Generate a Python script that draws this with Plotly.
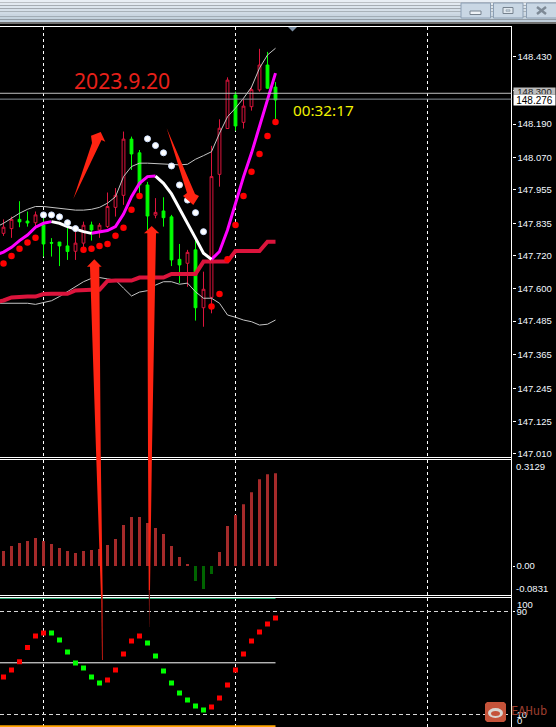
import plotly.graph_objects as go

# ---------- data ----------
bars = list(range(35))
opens = [147.799,147.816,147.849,147.843,147.837,147.829,147.766,147.768,147.754,147.735,147.764,147.829,147.811,147.823,147.892,147.935,
         148.136,148.087,147.972,147.864,147.879,147.858,147.706,147.692,147.740,147.533,147.570,148.010,148.174,148.294,148.196,148.252,148.312,148.401,148.322]
highs = [147.849,147.859,147.914,147.877,147.877,147.865,147.782,147.768,147.844,147.811,147.841,147.841,147.836,147.945,147.961,148.163,
         148.145,148.097,147.983,147.925,147.928,147.865,147.761,147.740,147.775,147.662,148.112,148.207,148.357,148.306,148.282,148.324,148.459,148.448,148.340]
lows = [147.790,147.783,147.821,147.823,147.823,147.716,147.716,147.682,147.704,147.704,147.740,147.773,147.783,147.818,147.859,147.901,
        148.026,147.933,147.811,147.853,147.823,147.682,147.621,147.608,147.487,147.465,147.513,147.966,148.174,148.166,148.174,148.238,148.306,148.316,148.205]
closes = [147.821,147.849,147.840,147.836,147.865,147.761,147.764,147.754,147.734,147.764,147.828,147.811,147.828,147.895,147.935,148.136,
          148.083,147.972,147.861,147.874,147.855,147.704,147.686,147.731,147.533,147.599,148.002,148.175,148.347,148.183,148.254,148.313,148.401,148.318,148.276]

line_x = [-1] + bars
hull_rising = [147.722,147.732,147.749,147.773,147.793,147.821,147.835,147.841,None,None,None,None,147.799,147.803,147.809,147.823,147.868,
               147.930,147.978,148.002,148.004,None,None,None,None,None,None,147.706,147.734,147.811,147.908,148.001,148.086,148.181,148.282,148.372]
hull_falling = [None,None,None,None,None,None,None,147.841,147.835,147.823,147.814,147.805,147.799,None,None,None,None,
                None,None,None,148.004,147.978,147.940,147.889,147.835,147.782,147.728,147.706,None,None,None,None,None,None,None,None]
band_upper = [147.820,147.835,147.853,147.871,147.885,147.895,147.895,147.892,147.887,147.885,147.882,147.882,147.885,147.892,147.907,147.930,148.002,
              148.038,148.050,148.050,148.048,148.046,148.044,148.044,148.046,148.064,148.077,148.091,148.157,148.216,148.247,148.282,148.322,148.390,148.437,148.461]
band_lower = [147.549,147.549,147.549,147.549,147.549,147.545,147.551,147.558,147.573,147.590,147.608,147.626,147.638,147.641,147.636,147.632,147.603,
              147.575,147.589,147.594,147.614,147.626,147.626,147.617,147.621,147.590,147.567,147.567,147.549,147.507,147.499,147.489,147.483,147.471,147.474,147.489]
slow_ma = [147.553,147.559,147.570,147.573,147.573,147.573,147.582,147.583,147.583,147.583,147.595,147.597,147.597,147.597,147.629,147.630,147.630,
           147.630,147.641,147.641,147.641,147.641,147.654,147.654,147.654,147.654,147.698,147.698,147.698,147.698,147.736,147.736,147.736,147.736,147.769,147.769]
sar_below = [147.691,147.718,147.744,147.766,147.783,None,None,None,None,None,147.740,147.744,147.754,147.761,147.790,147.819,
             147.883,147.933,None,None,None,None,None,None,None,None,147.537,147.582,147.706,147.829,147.933,148.019,148.083,148.147,148.197]
sar_above = [None,None,None,None,None,147.865,147.865,147.858,147.837,147.816,None,None,None,None,None,None,
             None,None,148.137,148.113,148.087,148.040,147.972,147.918,147.873,147.805,None,None,None,None,None,None,None,None,None]
macd = [.0440,.0587,.0675,.0733,.0821,.0733,.0645,.0528,.0440,.0381,.0440,.0469,.0499,.0616,.0792,.1203,.1437,.1437,.1261,.1115,.0939,.0587,
        .0264,.0059,-.0440,-.0675,-.0235,.0411,.1173,.1496,.1818,.2170,.2552,.2698,.2728]
osc_up = [39.0,44.4,50.9,61.8,70.8,73.2,None,None,None,None,None,None,None,36.7,44.4,56.9,67.0,70.8,None,None,None,None,None,None,None,None,
          15.7,22.7,32.8,44.4,56.9,67.0,73.9,80.2,84.8]
osc_down = [None,None,None,None,None,None,73.2,67.7,58.4,49.9,46.0,39.0,34.3,None,None,None,None,None,65.4,55.3,43.7,34.3,26.6,21.1,16.5,13.4,
            None,None,None,None,None,None,None,None,None]
level_x = [-1] + bars
price_ticks = [148.430,148.310,148.190,148.070,147.955,147.835,147.720,147.600,147.485,147.365,147.245,147.125,147.010]
last_price = 148.276
prev_price = 148.300

W, H = 556, 727
def fx(x): return x / W
def fy(y): return 1 - y / H
def path(pts):
    return "M " + " L ".join(f"{fx(x):.5f} {fy(y):.5f}" for x, y in pts) + " Z"

LABEL = dict(family="Liberation Sans", size=9.5, color="#f2f8ff")
RED = "#ff2412"

fig = go.Figure()
fig.add_trace(go.Candlestick(x=bars, open=opens, high=highs, low=lows, close=closes, yaxis="y",
    increasing=dict(line=dict(color="#dc143c", width=1), fillcolor="#000000"),
    decreasing=dict(line=dict(color="#00ff00", width=1), fillcolor="#00ff00"),
    whiskerwidth=0, hoverinfo="skip"))
for vals in (band_upper, band_lower):
    fig.add_trace(go.Scatter(x=line_x, y=vals, mode="lines", line=dict(color="#c4c4c4", width=1), yaxis="y"))
fig.add_trace(go.Scatter(x=line_x, y=slow_ma, mode="lines", line=dict(color="#dc143c", width=4), yaxis="y"))
fig.add_trace(go.Scatter(x=line_x, y=hull_rising, mode="lines", line=dict(color="#ff00ff", width=3), yaxis="y"))
fig.add_trace(go.Scatter(x=line_x, y=hull_falling, mode="lines", line=dict(color="#ffffff", width=3), yaxis="y"))
fig.add_trace(go.Scatter(x=bars, y=sar_below, mode="markers", marker=dict(color="#ff0000", size=6.5), yaxis="y"))
fig.add_trace(go.Scatter(x=bars, y=sar_above, mode="markers",
                         marker=dict(color="#ffffff", size=6, line=dict(color="#cfe0ff", width=1)), yaxis="y"))
fig.add_trace(go.Bar(x=bars, y=macd, width=0.375, yaxis="y2",
                     marker=dict(color=["#a52a2a" if v >= 0 else "#006400" for v in macd], line=dict(width=0))))
fig.add_trace(go.Scatter(x=level_x, y=[100] * len(level_x), mode="lines", line=dict(color="#2fb37a", width=1), yaxis="y3"))
fig.add_trace(go.Scatter(x=level_x, y=[50] * len(level_x), mode="lines", line=dict(color="#ffffff", width=1), yaxis="y3"))
fig.add_trace(go.Scatter(x=level_x, y=[0.7] * len(level_x), mode="lines", line=dict(color="#ffa500", width=2), yaxis="y3"))
fig.add_trace(go.Scatter(x=bars, y=osc_up, mode="markers", marker=dict(color="#ff0000", size=5, symbol="square"), yaxis="y3"))
fig.add_trace(go.Scatter(x=bars, y=osc_down, mode="markers", marker=dict(color="#00ff00", size=5, symbol="square"), yaxis="y3"))

shapes = []
def rect(x0, y0, x1, y1, fill, line=None, lw=1, layer="above"):
    shapes.append(dict(type="rect", xref="paper", yref="paper", x0=fx(x0), x1=fx(x1), y0=fy(y0), y1=fy(y1),
                       fillcolor=fill, line=dict(color=line or fill, width=lw if line else 0), layer=layer))
def hline(y, x0=0, x1=511.3, color="#ffffff", w=1):
    shapes.append(dict(type="line", xref="paper", yref="paper", x0=fx(x0), x1=fx(x1), y0=fy(y), y1=fy(y),
                       line=dict(color=color, width=w), layer="above"))
def poly(pts, fill):
    shapes.append(dict(type="path", xref="paper", yref="paper", path=path(pts), fillcolor=fill,
                       line=dict(width=0), layer="above"))

# window frame
for i, c in enumerate(["#e8eef4", "#e2e9f0", "#dce5ed", "#d6e0e9", "#d0dbe5", "#cad6e1", "#c4d2dd", "#bfcdda"]):
    rect(0, i * 2.8, W, (i + 1) * 2.8, c)
rect(0, 22, W, 24, "#6f6f6f")
hline(26.5, 0, 511.5)
for y in (457.5, 459.5, 595.5, 597.5):
    hline(y)
shapes.append(dict(type="line", xref="paper", yref="paper", x0=fx(511.5), x1=fx(511.5), y0=fy(26), y1=fy(727),
                   line=dict(color="#ffffff", width=1), layer="above"))
# window buttons
for x0, x1 in ((461, 490.5), (493.5, 523), (526.5, 557)):
    rect(x0, 3, x1, 18, "#c9d7e4", "#8c9fb4")
rect(470, 11, 481, 14.5, "#eef2f6", "#76828e")
rect(503, 7.5, 513, 13.5, "#dfe7ee", "#76828e")
rect(506, 9.8, 510, 11.3, "#c9d7e4", "#76828e", 0.5)
for (a, b, c, d) in ((537, 7, 546, 14), (537, 14, 546, 7)):
    shapes.append(dict(type="line", xref="paper", yref="paper", x0=fx(a), x1=fx(c), y0=fy(b), y1=fy(d),
                       line=dict(color="#7e8a96", width=2.5), layer="above"))
poly([(288, 27), (297, 27), (292.5, 31.5)], "#7b8ea3")

# horizontal price lines
for p, c in ((prev_price, "#c0c0c0"), (last_price + 0.003, "#8a919a")):
    shapes.append(dict(type="line", xref="paper", yref="y", x0=0, x1=fx(511.5), y0=p, y1=p,
                       line=dict(color=c, width=1), layer="above"))

# hand-drawn arrows
poly([(73.3, 199), (92, 143), (91, 135.7), (100.7, 132), (105.3, 141.7), (101.5, 140)], RED)
poly([(166.7, 128.3), (187, 193), (183, 196), (193.3, 205), (199, 196), (195, 194)], RED)
poly([(94.3, 259.3), (101.7, 266.7), (99.3, 266.7), (100.7, 450), (102.7, 597), (101, 597), (96, 450), (90, 266.7), (87, 266.7)], RED)
poly([(101, 597), (102.7, 597), (103, 660), (102, 660)], "#b01810")
poly([(151.7, 226), (159.3, 233.3), (156, 233.3), (152, 450), (150, 590), (148.7, 590), (148, 450), (147.3, 233.3), (144, 233.3)], RED)
poly([(148.7, 590), (150, 590), (149.5, 627), (149.2, 627)], "#801410")

# watermark logo
poly([(487, 702), (504, 702), (506, 704), (506, 720), (504, 722), (487, 722), (485, 720), (485, 704)], "#c5533a")
shapes.append(dict(type="circle", xref="paper", yref="paper", layer="above", fillcolor="#d9d5d0", line=dict(width=0),
                   x0=fx(488), x1=fx(503), y0=fy(708), y1=fy(718)))
shapes.append(dict(type="circle", xref="paper", yref="paper", layer="above", fillcolor="#c5533a", line=dict(width=0),
                   x0=fx(491), x1=fx(500), y0=fy(711), y1=fy(716)))

def note(text, x, y, font, anchor="left", **kw):
    return dict(text=text, xref="paper", yref="paper", x=fx(x), y=fy(y), xanchor=anchor, yanchor="middle",
                showarrow=False, font=font, borderpad=0, **kw)

dark = dict(family="Liberation Sans", size=9.5, color="#222222")
annotations = [
    note("2023.9.20", 73, 81, dict(family="Noto Sans", size=21.2, color="#e8201a")),
    note("00:32:17", 292, 110, dict(family="Noto Sans", size=15.3, color="#f2f200")),
    note("148.300", 513, 91.5, dark, bgcolor="#bdbdbd", width=41, height=6, align="center"),
    note(f"{last_price:.3f}", 513, 100, dict(family="Liberation Sans", size=10, color="#000000"),
         bgcolor="#ffffff", width=41, height=10, align="center"),
    note("0.3129", 515, 466.5, LABEL),
    note("-0.0831", 515, 588.5, LABEL),
    note("100", 516, 604.5, LABEL),
    note("0", 516, 720.5, LABEL),
    note("EAHub", 510, 711, dict(family="DejaVu Sans Mono", size=12, color="#9a3d2e")),
]

xdom = [0, 511.5 / W]
fig.update_layout(
    template="none",
    width=W, height=H, margin=dict(l=0, r=0, t=0, b=0, pad=0), autosize=False,
    paper_bgcolor="#000000", plot_bgcolor="#000000", showlegend=False, hovermode=False, font=LABEL, boxgap=0.5,
    xaxis=dict(type="linear", domain=xdom, range=[-0.4375, 63.5], anchor="y3", rangeslider=dict(visible=False),
               tickmode="array", tickvals=[5, 29, 53], ticks="", showticklabels=False, showgrid=True, automargin=False,
               griddash="3px,3px", gridcolor="#ffffff", gridwidth=1, zeroline=False, showline=False),
    yaxis=dict(domain=[fy(457.6), fy(27)], range=[146.997, 148.537], side="right", anchor="x", automargin=False,
               tickmode="array", tickvals=price_ticks, ticktext=[f"{v:.3f}" for v in price_ticks],
               ticks="outside", ticklen=3, tickcolor="#ffffff", tickfont=LABEL, showgrid=False, zeroline=False, showline=False),
    yaxis2=dict(domain=[fy(595.3), fy(459.5)], range=[-0.0859, 0.3129], side="right", anchor="x", automargin=False,
                tickmode="array", tickvals=[0], ticktext=["0.00"], ticks="outside", ticklen=2, tickcolor="#ffffff",
                tickfont=LABEL, showgrid=False, zeroline=False, showline=False),
    yaxis3=dict(domain=[0, fy(597.5)], range=[0.15, 100.7], side="right", anchor="x", automargin=False,
                tickmode="array", tickvals=[90, 10], ticktext=["90", "10"], ticks="outside", ticklen=2, tickcolor="#ffffff",
                tickfont=LABEL, showgrid=True, griddash="4px,3px", gridcolor="#d8d8d8", gridwidth=1,
                zeroline=False, showline=False),
    shapes=shapes, annotations=annotations,
)

fig.write_html("out.html", config=dict(displayModeBar=False),
               post_script="document.body.style.margin='0';document.body.style.overflow='hidden';")
